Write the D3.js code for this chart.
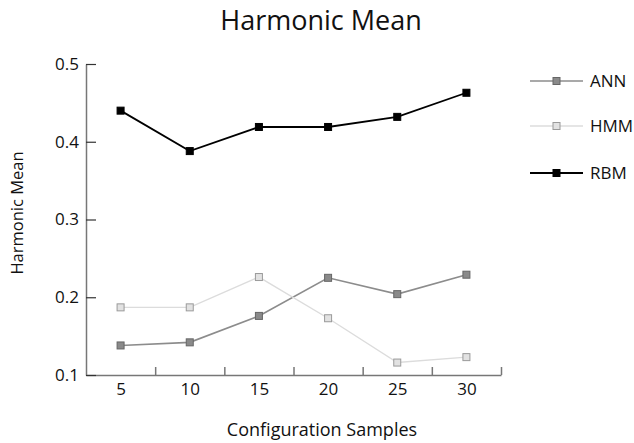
<!DOCTYPE html>
<html><head><meta charset="utf-8">
<script src="https://cdn.jsdelivr.net/npm/d3@7"></script>
<style>
body{margin:0;background:#fff;}
text{font-family:"Open Sans",sans-serif;fill:#111;}
</style></head>
<body><svg id="c" width="634" height="443"></svg>
<script>
const samples = [5, 10, 15, 20, 25, 30];
const ann = [0.138, 0.142, 0.176, 0.225, 0.204, 0.229];
const hmm = [0.187, 0.187, 0.226, 0.173, 0.116, 0.123];
const rbm = [0.440, 0.388, 0.419, 0.419, 0.432, 0.463];
const yTicks = [0.1, 0.2, 0.3, 0.4, 0.5];
const seriesNames = ["ANN", "HMM", "RBM"];

const series = [
  {name: seriesNames[0], values: ann, line: "#8c8c8c", fill: "#8a8a8a", stroke: "#666", w: 1.6},
  {name: seriesNames[1], values: hmm, line: "#dcdcdc", fill: "#e2e2e2", stroke: "#9a9a9a", w: 1.4},
  {name: seriesNames[2], values: rbm, line: "#000", fill: "#000", stroke: "#000", w: 1.8}
];

const svg = d3.select("#c");
const L = 86, R = 501, T = 64, B = 375;
const step = 5;
const x = d3.scaleLinear().domain([samples[0] - step/2, samples[samples.length-1] + step/2]).range([L, R]);
const y = d3.scaleLinear().domain([0.1, 0.5]).range([B, T]);

// x axis: tick marks at category boundaries
const bounds = samples.map(s => s + step/2);
const gx = svg.append("g").attr("transform", `translate(0,${B})`)
  .call(d3.axisBottom(x).tickValues(bounds).tickFormat("").tickSizeInner(-8).tickSizeOuter(0));
gx.select(".domain").attr("stroke", "#777").attr("stroke-width", 1.5);
gx.selectAll(".tick line").attr("stroke", "#777").attr("stroke-width", 1.5);

const gxl = svg.append("g").attr("transform", `translate(0,${B})`)
  .call(d3.axisBottom(x).tickValues(samples).tickFormat(d3.format("d")).tickSize(0).tickPadding(8));
gxl.select(".domain").remove();
gxl.selectAll("text").attr("font-size", 17).attr("fill", "#111").style("font-family", "'Open Sans',sans-serif");

// y axis
const gy = svg.append("g").attr("transform", `translate(${L},0)`)
  .call(d3.axisLeft(y).tickValues(yTicks).tickFormat(d3.format(".1f")).tickSizeInner(-10).tickSizeOuter(0).tickPadding(7));
gy.select(".domain").attr("stroke", "#777").attr("stroke-width", 1.5);
gy.selectAll(".tick line").attr("stroke", "#333").attr("stroke-width", 1.2);
gy.selectAll("text").attr("font-size", 17).attr("fill", "#111").style("font-family", "'Open Sans',sans-serif");

// lines & markers
const line = d3.line().x((d, i) => x(samples[i])).y(d => y(d));
series.forEach(s => {
  svg.append("path").attr("d", line(s.values)).attr("fill", "none")
    .attr("stroke", s.line).attr("stroke-width", s.w);
  svg.selectAll(null).data(s.values).enter().append("rect")
    .attr("x", (d, i) => x(samples[i]) - 3.5).attr("y", d => y(d) - 3.5)
    .attr("width", 7).attr("height", 7)
    .attr("fill", s.fill).attr("stroke", s.stroke).attr("stroke-width", 1);
});

// legend
const legY = [81, 126, 173];
series.forEach((s, i) => {
  const g = svg.append("g").attr("transform", `translate(0,${legY[i]})`);
  g.append("line").attr("x1", 530).attr("x2", 583).attr("y1", 0).attr("y2", 0)
    .attr("stroke", s.line).attr("stroke-width", s.w);
  g.append("rect").attr("x", 553).attr("y", -3.5).attr("width", 7).attr("height", 7)
    .attr("fill", s.fill).attr("stroke", s.stroke).attr("stroke-width", 1);
  g.append("text").attr("x", 590).attr("y", 6).attr("font-size", 17).text(s.name);
});

// titles
svg.append("text").attr("x", 321).attr("y", 30).attr("text-anchor", "middle")
  .attr("font-size", 27).text("Harmonic Mean");
svg.append("text").attr("x", 322).attr("y", 436).attr("text-anchor", "middle")
  .attr("font-size", 18).text("Configuration Samples");
svg.append("text").attr("transform", "translate(23,213) rotate(-90)").attr("text-anchor", "middle")
  .attr("font-size", 16.5).text("Harmonic Mean");
</script>
</body></html>
